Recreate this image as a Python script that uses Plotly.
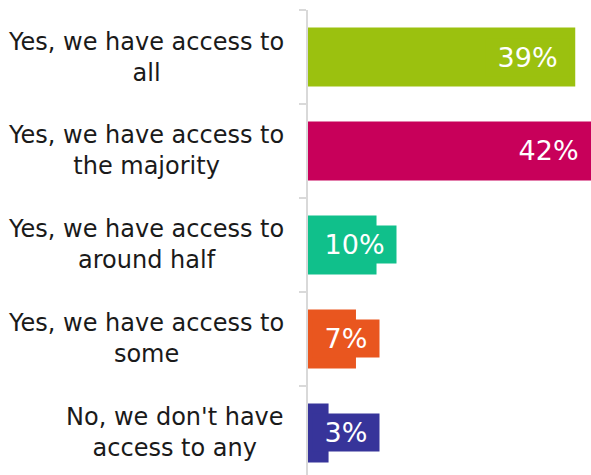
import plotly.graph_objects as go

categories = [
    "Yes, we have access to<br>all",
    "Yes, we have access to<br>the majority",
    "Yes, we have access to<br>around half",
    "Yes, we have access to<br>some",
    "No, we don't have<br>access to any",
]
values = [39, 42, 10, 7, 3]
colors = ["#9BC10F", "#C8005A", "#10C08B", "#E9561F", "#37349A"]

FONT = "Verdana, DejaVu Sans, sans-serif"
X_MAX = 41.3  # visible end of the value axis; the longest bar runs past it

fig = go.Figure(
    go.Bar(
        x=values,
        y=categories,
        orientation="h",
        marker=dict(color=colors, line=dict(width=0)),
        hoverinfo="skip",
    )
)

annotations = []
for cat, val, col in zip(categories, values, colors):
    # category label, lines centred, block right-aligned to the axis
    annotations.append(dict(
        xref="paper", yref="y", x=0, y=cat, xanchor="right", yanchor="middle",
        xshift=-22, text=cat, showarrow=False, align="center",
        font=dict(family=FONT, size=24, color="#1a1a1a"),
    ))
    # value label: at the bar end for long bars, near the axis for short ones
    big = val > 15
    annotations.append(dict(
        xref="paper", yref="y", x=(val / X_MAX) if big else 0, y=cat,
        xanchor="right" if big else "left", yanchor="middle",
        xshift=-5 if big else 4,
        text=f" {val}% ", showarrow=False, bgcolor=col, borderpad=3,
        font=dict(family=FONT, size=27, color="white"),
    ))

fig.update_layout(
    width=591, height=475,
    margin=dict(l=308, r=0, t=10, b=0),
    paper_bgcolor="white", plot_bgcolor="white",
    showlegend=False,
    bargap=0.372,
    annotations=annotations,
    xaxis=dict(range=[0, X_MAX], visible=False, fixedrange=True),
    yaxis=dict(
        range=[4.447, -0.5], showticklabels=False,
        showline=True, linecolor="#d9d9d9", linewidth=2,
        ticks="outside", tickson="boundaries", ticklen=7,
        tickcolor="#d9d9d9", tickwidth=2, showgrid=False, zeroline=False,
    ),
)

fig.write_html("out.html")
